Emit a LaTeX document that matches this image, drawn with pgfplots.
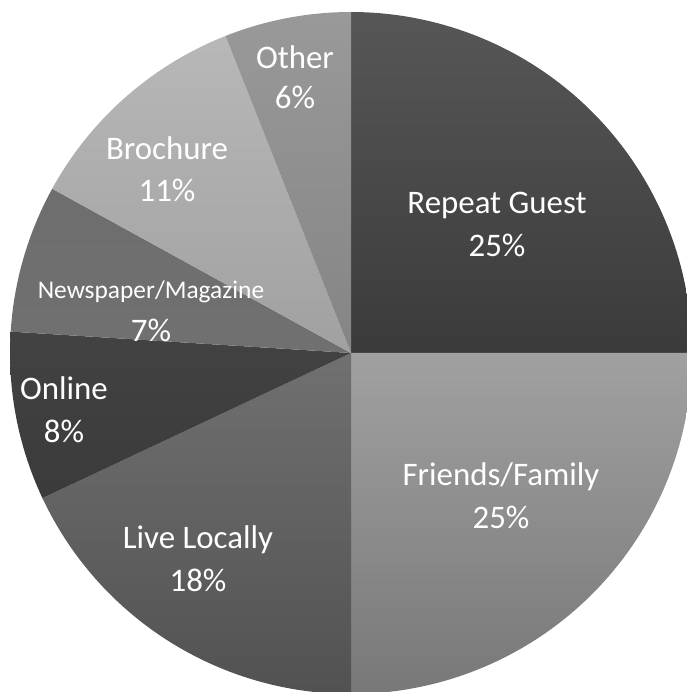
\documentclass[border=0pt]{standalone}
\usepackage{fontspec}
\setmainfont{Carlito}
\usepackage{pgfplots}
\pgfplotsset{compat=1.18}
\tikzset{lbl/.style={text=white, align=center, font=\fontsize{33}{40}\selectfont}}
\begin{document}
\begin{tikzpicture}
\begin{axis}[
  width=687bp, height=692bp, scale only axis,
  xmin=0, xmax=687, ymin=0, ymax=692,
  axis line style={draw=none}, ticks=none,
  clip=true,
]
% shares (percent): Repeat Guest 25, Friends/Family 25, Live Locally 18,
% Online 8, Newspaper/Magazine 7, Brochure 11, Other 6  (clockwise from 12 o'clock)
% slice angles = 90 - 3.6 * cumulative share
\addplot[draw=none, top color=black!66, bottom color=black!77, domain=0:90, samples=80, variable=\t]
  ({351+341*cos(t)},{339+341*sin(t)}) -- (351,339) -- cycle;
\addplot[draw=none, top color=black!37, bottom color=black!53, domain=-90:0, samples=80, variable=\t]
  ({351+341*cos(t)},{339+341*sin(t)}) -- (351,339) -- cycle;
\addplot[draw=none, top color=black!56, bottom color=black!68, domain=-154.8:-90, samples=60, variable=\t]
  ({351+341*cos(t)},{339+341*sin(t)}) -- (351,339) -- cycle;
\addplot[draw=none, top color=black!74, bottom color=black!77, domain=-183.6:-154.8, samples=30, variable=\t]
  ({351+341*cos(t)},{339+341*sin(t)}) -- (351,339) -- cycle;
\addplot[draw=none, top color=black!57, bottom color=black!56, domain=-208.8:-183.6, samples=30, variable=\t]
  ({351+341*cos(t)},{339+341*sin(t)}) -- (351,339) -- cycle;
\addplot[draw=none, top color=black!28, bottom color=black!37, domain=-248.4:-208.8, samples=40, variable=\t]
  ({351+341*cos(t)},{339+341*sin(t)}) -- (351,339) -- cycle;
\addplot[draw=none, top color=black!40, bottom color=black!48, domain=-270:-248.4, samples=30, variable=\t]
  ({351+341*cos(t)},{339+341*sin(t)}) -- (351,339) -- cycle;

\node[lbl] at (497,487) {Repeat Guest};
\node[lbl] at (497,447) {25\%};
\node[lbl] at (501,215) {Friends/Family};
\node[lbl] at (501,175) {25\%};
\node[lbl] at (198,152) {Live Locally};
\node[lbl] at (198,112) {18\%};
\node[lbl] at (64,304) {Online};
\node[lbl] at (64,261) {8\%};
\node[lbl, font=\fontsize{25.5}{31}\selectfont] at (151,400) {Newspaper/Magazine};
\node[lbl] at (151,362) {7\%};
\node[lbl] at (167,544) {Brochure};
\node[lbl] at (167,502) {11\%};
\node[lbl] at (295,635) {Other};
\node[lbl] at (295,595) {6\%};
\end{axis}
\end{tikzpicture}
\end{document}
